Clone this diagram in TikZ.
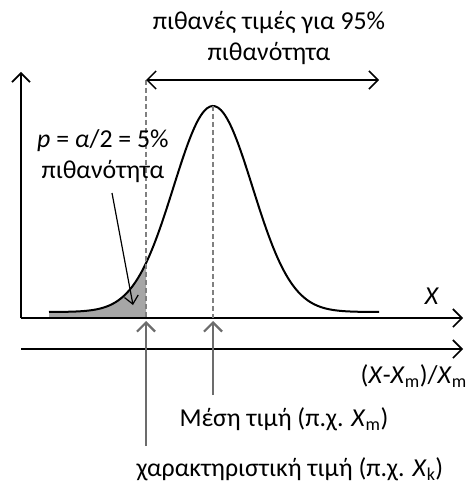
\documentclass[tikz,border=0pt]{standalone}
\usepackage{fontspec}
\setmainfont{Carlito}
\usetikzlibrary{arrows.meta}
\tikzset{
  ax/.style={line width=1.8pt,-{Straight Barb[length=9pt,width=18pt,line width=1.6pt]}},
  dimline/.style={line width=1.5pt,{Straight Barb[length=9pt,width=18pt,line width=1.5pt]}-{Straight Barb[length=9pt,width=18pt,line width=1.5pt]}},
  guide/.style={gray,line width=1.3pt,dash pattern=on 5pt off 3pt},
  pointer/.style={gray!85!black,line width=2.2pt,-{Straight Barb[length=9pt,width=18pt,line width=2.2pt]}},
  lbl/.style={font=\fontsize{25.8}{31}\selectfont,inner sep=0pt,align=center}
}
\begin{document}
\begin{tikzpicture}[x=1pt,y=-1pt]
  \useasboundingbox (0,0) rectangle (467,486);
  % axes
  \coordinate (o) at (21,318); \coordinate (ytip) at (21,72); \coordinate (xtip) at (463,318);
  \coordinate (o2) at (21,349); \coordinate (x2tip) at (463,349);
  \fill[gray!70] (49,318) -- plot[domain=49:146,samples=60] (\x,{312-206*exp(-0.5*((\x-213)/39.5)^2)}) -- (146,318) -- cycle;
  \draw[ax] (o) -- (ytip);
  \draw[ax] (o) -- (xtip); \draw[ax] (o2) -- (x2tip);
  \draw[line width=2pt,smooth] plot[domain=49:379,samples=120] (\x,{312-206*exp(-0.5*((\x-213)/39.5)^2)});
  % guides and range
  \coordinate (lo) at (146,80); \coordinate (hi) at (379,80); \coordinate (top) at (213,106);
  \draw[guide] (lo) -- (146,318); \draw[guide] (top) -- (213,318);
  \draw[dimline] (lo) -- (hi);
  \node[lbl] (range) at (269,38) {πιθανές τιμές για 95\%\\πιθανότητα};
  \node[lbl,anchor=west] (tail) at (37,156) {\textit{p} = \textit{α}/2 = 5\%\\πιθανότητα};
  \coordinate (area) at (133,305);
  \draw[line width=1.2pt,-{Straight Barb[length=8pt,width=14pt,line width=1.2pt]}] (112,193) -- (area);
  \node[lbl] (xlab) at (432,296) {\textit{X}};
  \node[lbl,anchor=east] (ulab) at (467,376) {(\textit{X}-\textit{X}\textsubscript{m})/\textit{X}\textsubscript{m}};
  % pointers
  \node[lbl] (mean) at (284,419) {Μέση τιμή (π.χ. \textit{X}\textsubscript{m})};
  \node[lbl] (charv) at (290,469) {χαρακτηριστική τιμή (π.χ. \textit{X}\textsubscript{k})};
  \draw[pointer] (213,395) -- (213,321);
  \draw[pointer] (146,446) -- (146,321);
\end{tikzpicture}
\end{document}
